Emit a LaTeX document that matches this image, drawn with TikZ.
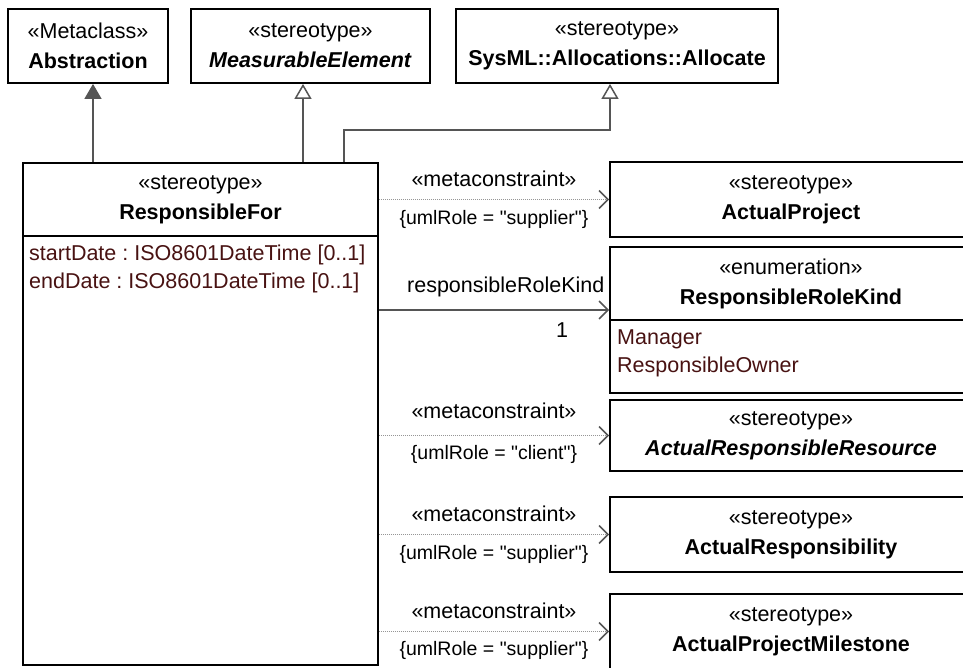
\documentclass[tikz,border=0pt]{standalone}
\usepackage{fontspec}
\setmainfont{Liberation Sans}
\usetikzlibrary{arrows.meta}
\definecolor{linegray}{RGB}{85,85,85}
\definecolor{dotgray}{RGB}{150,150,150}
\definecolor{attrbrown}{RGB}{72,18,18}
\frenchspacing

\begin{document}
\begin{tikzpicture}[x=1pt, y=-1pt,
    box/.style={draw=black, line width=1.8pt, fill=white, inner sep=0pt, align=center,
        font=\fontsize{21.5}{30}\selectfont},
    attr/.style={anchor=west, inner sep=0pt, text=attrbrown, font=\fontsize{21.5}{26}\selectfont},
    lbl/.style={inner sep=0pt, font=\fontsize{21.5}{24}\selectfont},
    cons/.style={inner sep=0pt, font=\fontsize{19.5}{22}\selectfont},
    real/.style={draw=linegray, line width=1.5pt, -{Triangle[length=15pt, width=17pt]}},
    gen/.style={draw=linegray, line width=1.5pt, -{Triangle[open, length=15pt, width=17pt, fill=white]}},
    assoc/.style={draw=linegray, line width=1.5pt, -{Straight Barb[length=9pt, width=18pt]}},
    meta/.style={draw=dotgray, line width=1.2pt, dash pattern=on 1pt off 1pt,
        -{Straight Barb[length=9pt, width=18pt, color=linegray, line width=1.5pt]}}]
    \useasboundingbox (0,0) rectangle (963,667);
    \clip (0,0) rectangle (963,667);

    % parents
    \node[box, minimum width=160pt, minimum height=74pt] (abstr) at (88,46) {«Metaclass»\\\textbf{Abstraction}};
    \node[box, minimum width=239pt, minimum height=74pt] (meas) at (310.5,46) {«stereotype»\\\textbf{\textit{MeasurableElement}}};
    \node[box, minimum width=322pt, minimum height=74pt] (alloc) at (617,46) {«stereotype»\\\textbf{SysML::Allocations::Allocate}};

    % the stereotype itself
    \node[box, minimum width=355pt, minimum height=502pt] (rf) at (200.5,414) {};
    \node[box, minimum width=355pt, minimum height=73pt] (rfhead) at (200.5,199.5) {«stereotype»\\\textbf{ResponsibleFor}};
    \node[attr] (start) at (29,255) {startDate : ISO8601DateTime [0..1]};
    \node[attr] (end) at (29,283) {endDate : ISO8601DateTime [0..1]};

    % targets on the right
    \node[box, minimum width=362pt, minimum height=75pt] (aproj) at (791,199.5) {«stereotype»\\\textbf{ActualProject}};
    \node[box, minimum width=362pt, minimum height=146pt] (rrk) at (791,320) {};
    \node[box, minimum width=362pt, minimum height=73pt] (rrkhead) at (791,283.5) {«enumeration»\\\textbf{ResponsibleRoleKind}};
    \node[attr] (mgr) at (617,339) {Manager};
    \node[attr] (owner) at (617,367) {ResponsibleOwner};
    \node[box, minimum width=362pt, minimum height=71pt] (arres) at (791,435.5) {«stereotype»\\\textbf{\textit{ActualResponsibleResource}}};
    \node[box, minimum width=362pt, minimum height=75pt] (aresp) at (791,534.5) {«stereotype»\\\textbf{ActualResponsibility}};
    \node[box, minimum width=362pt, minimum height=75pt] (amile) at (791,631.5) {«stereotype»\\\textbf{ActualProjectMilestone}};

    % generalizations
    \draw[real] ([xshift=-107.5pt]rf.north) -- ([xshift=5pt]abstr.south);
    \draw[gen] ([xshift=102.5pt]rf.north) -- ([xshift=-7.5pt]meas.south);
    \draw[gen] ([xshift=143.5pt]rf.north) |- ([xshift=-7pt, yshift=-46pt]alloc.south) -- ([xshift=-7pt]alloc.south);

    % metaconstraints and the association
    \draw[meta] (rf.east |- aproj.west) -- (aproj.west)
        node[lbl, midway, yshift=21pt] {«metaconstraint»}
        node[cons, midway, yshift=-20pt] {\{umlRole = \textquotedbl supplier\textquotedbl\}};
    \coordinate (rrkend) at ([yshift=10pt]rrk.west);
    \draw[assoc] (rf.east |- rrkend) -- (rrkend)
        node[lbl, pos=1, anchor=east, xshift=-4pt, yshift=23pt] {responsibleRoleKind}
        node[lbl, pos=1, xshift=-47pt, yshift=-20pt] {1};
    \draw[meta] (rf.east |- arres.west) -- (arres.west)
        node[lbl, midway, yshift=25pt] {«metaconstraint»}
        node[cons, midway, yshift=-19pt] {\{umlRole = \textquotedbl client\textquotedbl\}};
    \draw[meta] (rf.east |- aresp.west) -- (aresp.west)
        node[lbl, midway, yshift=21pt] {«metaconstraint»}
        node[cons, midway, yshift=-20pt] {\{umlRole = \textquotedbl supplier\textquotedbl\}};
    \draw[meta] (rf.east |- amile.west) -- (amile.west)
        node[lbl, midway, yshift=21pt] {«metaconstraint»}
        node[cons, midway, yshift=-19pt] {\{umlRole = \textquotedbl supplier\textquotedbl\}};
\end{tikzpicture}
\end{document}
